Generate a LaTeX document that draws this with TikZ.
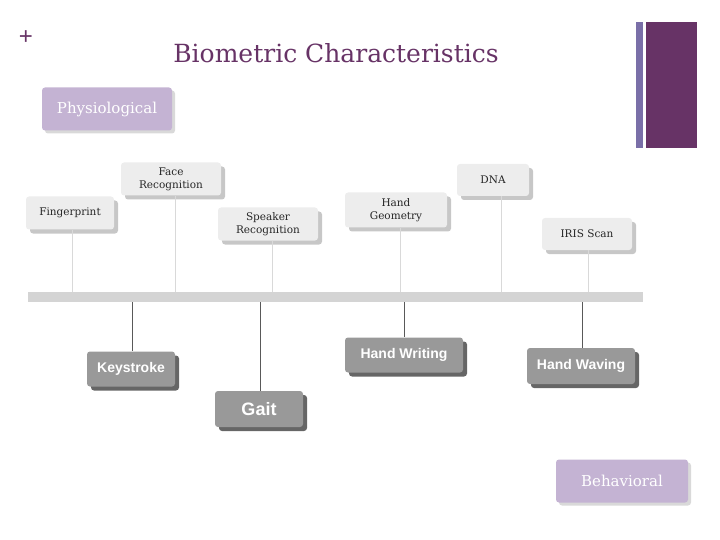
\documentclass[tikz,border=0pt]{standalone}
\usepackage{fontspec}
\usetikzlibrary{shadows}
\newfontfamily\sans{Liberation Sans}
\newfontfamily\serif{DejaVu Serif}
\definecolor{purp}{HTML}{673366}
\definecolor{lav}{HTML}{C4B3D3}
\definecolor{lavbar}{HTML}{7A6FA8}
\begin{document}
\begin{tikzpicture}[x=1pt,y=-1pt,
 topbox/.style={rounded corners=3pt,fill=black!7,draw=none,font=\serif\fontsize{10.5}{13}\selectfont,align=center,text=black!85,
   general shadow={fill=black!22,shadow xshift=4pt,shadow yshift=-4pt}},
 botbox/.style={rounded corners=3pt,fill=black!40,font=\sans\bfseries\fontsize{14}{16}\selectfont,text=white,
   general shadow={fill=black!60,shadow xshift=4pt,shadow yshift=-4pt}},
 catbox/.style={rounded corners=3pt,fill=lav,font=\serif\fontsize{15}{17}\selectfont,text=white,
   general shadow={fill=black!15,shadow xshift=3pt,shadow yshift=-3pt}},
 uline/.style={draw=black!15,line width=0.8pt},
 dline/.style={draw=black!65,line width=0.8pt}]
\useasboundingbox (0,0) rectangle (720,540);
\fill[purp] (646,22) rectangle (697,148);
\fill[lavbar] (636,22) rectangle (643,148);
\node[text=purp,font=\sans\fontsize{24}{26}\selectfont] (plus) at (26,38) {+};
\node[text=purp,font=\serif\fontsize{25}{28}\selectfont] (title) at (336,53) {Biometric Characteristics};
\node[catbox,minimum width=130pt,minimum height=43pt] (phys) at (107,109) {Physiological};
\node[catbox,minimum width=132pt,minimum height=43pt] (beh) at (622,481) {Behavioral};
% timeline
\fill[black!17] (28,292) rectangle (643,302);
\coordinate (t1) at (72,292); \coordinate (t2) at (175,292); \coordinate (t3) at (272,292);
\coordinate (t4) at (400,292); \coordinate (t5) at (501,292); \coordinate (t6) at (588,292);
\coordinate (b1) at (132,302); \coordinate (b2) at (260,302); \coordinate (b3) at (404,302); \coordinate (b4) at (582,302);
\node[topbox,minimum width=88pt,minimum height=33pt] (fp) at (70,213) {Fingerprint};
\node[topbox,minimum width=100pt,minimum height=33pt] (face) at (171,179) {Face\\Recognition};
\node[topbox,minimum width=100pt,minimum height=33pt] (spk) at (268,224) {Speaker\\Recognition};
\node[topbox,minimum width=102pt,minimum height=35pt] (hg) at (396,210) {Hand\\Geometry};
\node[topbox,minimum width=72pt,minimum height=32pt] (dna) at (493,180) {DNA};
\node[topbox,minimum width=90pt,minimum height=32pt] (iris) at (587,234) {IRIS Scan};
\draw[uline] (fp.south -| t1) -- (t1);
\draw[uline] (face.south -| t2) -- (t2);
\draw[uline] (spk.south -| t3) -- (t3);
\draw[uline] (hg.south -| t4) -- (t4);
\draw[uline] (dna.south -| t5) -- (t5);
\draw[uline] (iris.south -| t6) -- (t6);
\node[botbox,minimum width=88pt,minimum height=35pt] (ks) at (131,369) {Keystroke};
\node[botbox,minimum width=88pt,minimum height=36pt] (gait) at (259,409) {\fontsize{18}{20}\selectfont Gait};
\node[botbox,minimum width=118pt,minimum height=35pt] (hw) at (404,355) {Hand Writing};
\node[botbox,minimum width=108pt,minimum height=36pt] (hwv) at (581,366) {Hand Waving};
\draw[dline] (b1) -- (ks.north -| b1);
\draw[dline] (b2) -- (gait.north -| b2);
\draw[dline] (b3) -- (hw.north -| b3);
\draw[dline] (b4) -- (hwv.north -| b4);
\end{tikzpicture}
\end{document}
